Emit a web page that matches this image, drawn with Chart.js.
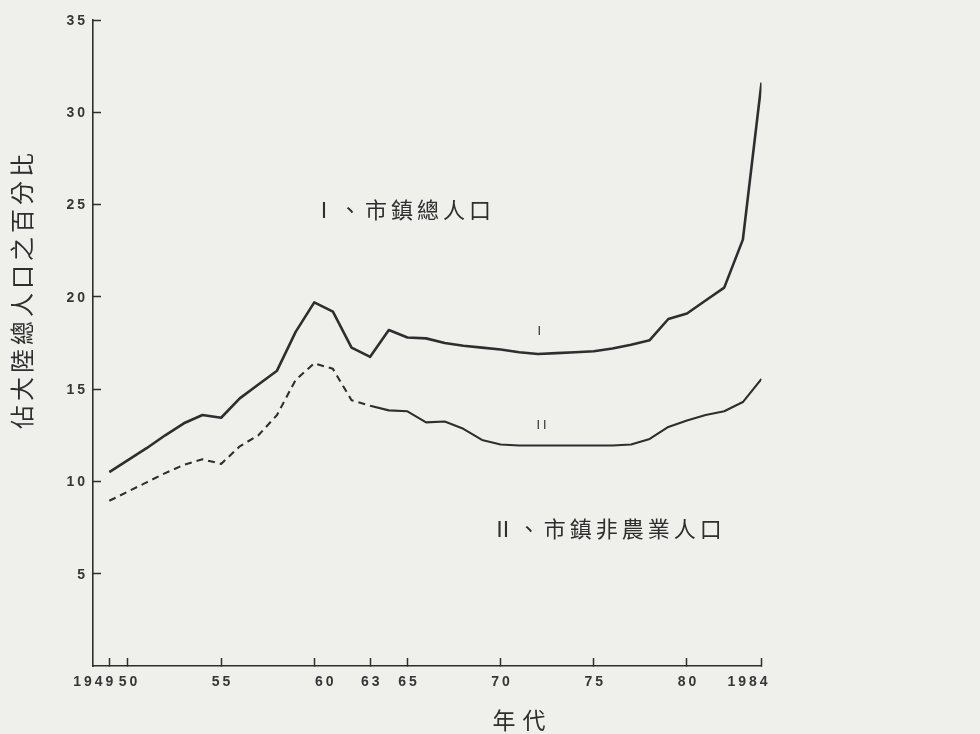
<!DOCTYPE html>
<html>
<head>
<meta charset="utf-8">
<script src="https://cdn.jsdelivr.net/npm/chart.js@4.4.1/dist/chart.umd.min.js"></script>
<style>
  html, body { margin: 0; padding: 0; background: #efefec; }
  #wrap { width: 980px; height: 734px; position: relative; }
</style>
</head>
<body>
<div id="wrap"><canvas id="c"></canvas></div>
<script>
// ---- data ----
const years = [1949,1950,1951,1952,1953,1954,1955,1956,1957,1958,1959,1960,1961,1962,1963,1964,1965,1966,
               1967,1968,1969,1970,1971,1972,1973,1974,1975,1976,1977,1978,1979,1980,1981,1982,1983,1984];
const totalUrbanPct = [10.5,11.15,11.8,12.5,13.15,13.6,13.45,14.5,15.25,16.0,18.1,19.7,19.2,17.25,16.75,18.2,17.8,17.75,
                       17.5,17.35,17.25,17.15,17.0,16.9,16.95,17.0,17.05,17.2,17.4,17.65,18.8,19.1,19.8,20.5,23.1,31.6];
const nonAgriPct = [8.95,9.45,9.95,10.45,10.9,11.2,10.95,11.9,12.5,13.6,15.5,16.4,16.1,14.4,14.1,13.85,13.8,13.2,
                    13.25,12.85,12.25,12.0,11.95,11.95,11.95,11.95,11.95,11.95,12.0,12.3,12.95,13.3,13.6,13.8,14.3,15.55];
const xTickYears  = [1949,1950,1955,1960,1963,1965,1970,1975,1980,1984];
const xTickLabels = ['1949','50','55','60','63','65','70','75','80','1984'];
const yTickValues = [5,10,15,20,25,30,35];
const seriesNames = ['Ⅰ、市鎮總人口','Ⅱ、市鎮非農業人口'];
const lineTags = ['I','II'];
const yTitle = '佔大陸總人口之百分比';
const xTitle = '年代';
const dashedUntilYear = 1962;

// ---- styling / placement (not data) ----
const INK = '#2e2e2e';
const xLabelShift = [-16,0,0,10,0,0,0,0,0,-14];
const seriesLabelAt = [[1959.93, 24.71], [1969.52, 7.42]];
const tagAt = [[1972.07, 18.11], [1972.19, 13.02]];

const toXY = arr => years.map((yr, i) => ({x: yr, y: arr[i]}));

const paintPlugin = {
  id: 'paint',
  beforeDraw(chart) {
    const ctx = chart.ctx;
    ctx.save();
    ctx.fillStyle = '#efefec';
    ctx.fillRect(0, 0, chart.width, chart.height);
    ctx.restore();
  },
  afterDraw(chart) {
    const ctx = chart.ctx;
    const xs = chart.scales.x, ys = chart.scales.y;
    ctx.save();
    ctx.fillStyle = '#363636';
    // tick labels
    ctx.font = 'bold 14px "Liberation Sans", Arial, sans-serif';
    ctx.letterSpacing = '3px';
    ctx.textBaseline = 'middle';
    ctx.textAlign = 'center';
    xTickYears.forEach((v, i) => {
      ctx.fillText(xTickLabels[i], xs.getPixelForValue(v) + xLabelShift[i] + 1.5, xs.top + 16);
    });
    ctx.textAlign = 'right';
    yTickValues.forEach(v => {
      ctx.fillText(String(v), ys.right - 5, ys.getPixelForValue(v) + 1);
    });
    ctx.fillStyle = INK;
    // series labels
    ctx.font = '22px "Noto Sans CJK TC", "Noto Sans CJK SC", sans-serif';
    ctx.letterSpacing = '4px';
    ctx.textAlign = 'left';
    seriesNames.forEach((t, i) => {
      ctx.fillText(t, xs.getPixelForValue(seriesLabelAt[i][0]), ys.getPixelForValue(seriesLabelAt[i][1]));
    });
    // small line tags
    ctx.font = '12px "DejaVu Sans", sans-serif';
    ctx.letterSpacing = '3px';
    ctx.textAlign = 'center';
    lineTags.forEach((t, i) => {
      ctx.fillText(t, xs.getPixelForValue(tagAt[i][0]) + 1.5, ys.getPixelForValue(tagAt[i][1]));
    });
    // axis titles
    ctx.font = '23px "Noto Sans CJK TC", "Noto Sans CJK SC", sans-serif';
    ctx.letterSpacing = '7px';
    ctx.fillText(xTitle, 519 + 3.5, 720);
    ctx.save();
    ctx.translate(22, 291);
    ctx.rotate(-Math.PI / 2);
    ctx.letterSpacing = '4px';
    ctx.font = '24px "Noto Sans CJK TC", "Noto Sans CJK SC", sans-serif';
    ctx.fillText(yTitle, 2, 0);
    ctx.restore();
    ctx.restore();
  }
};

new Chart(document.getElementById('c'), {
  type: 'line',
  data: {
    datasets: [
      {
        label: seriesNames[0],
        data: toXY(totalUrbanPct),
        borderColor: INK,
        borderWidth: 2.6,
        pointRadius: 0,
        tension: 0,
        borderJoinStyle: 'round',
        fill: false
      },
      {
        label: seriesNames[1],
        data: toXY(nonAgriPct),
        borderColor: INK,
        borderWidth: 2.1,
        pointRadius: 0,
        tension: 0,
        borderJoinStyle: 'round',
        fill: false,
        segment: {
          borderDash: c => (c.p0.parsed.x <= dashedUntilYear ? [7, 5] : [])
        }
      }
    ]
  },
  options: {
    responsive: true,
    maintainAspectRatio: false,
    animation: false,
    devicePixelRatio: 1,
    layout: { padding: { top: 20, right: 218.5, bottom: 0, left: 0 } },
    plugins: { legend: { display: false }, tooltip: { enabled: false } },
    scales: {
      x: {
        type: 'linear',
        min: 1948.125,
        max: 1984,
        afterBuildTicks: s => { s.ticks = xTickYears.map(v => ({ value: v })); },
        afterFit: s => { s.height = 68; },
        ticks: { color: 'rgba(0,0,0,0)', autoSkip: false, maxRotation: 0, callback: v => String(v) },
        grid: { drawOnChartArea: false, drawTicks: true, tickLength: -8, tickWidth: 1.5, tickColor: INK },
        border: { display: true, color: INK, width: 1.6 }
      },
      y: {
        type: 'linear',
        min: 0,
        max: 35,
        afterBuildTicks: s => { s.ticks = yTickValues.map(v => ({ value: v })); },
        afterFit: s => { s.width = 93; },
        ticks: { color: 'rgba(0,0,0,0)' },
        grid: { drawOnChartArea: false, drawTicks: true, tickLength: -8, tickWidth: 1.5, tickColor: INK },
        border: { display: true, color: INK, width: 1.6 }
      }
    }
  },
  plugins: [paintPlugin]
});
</script>
</body>
</html>
